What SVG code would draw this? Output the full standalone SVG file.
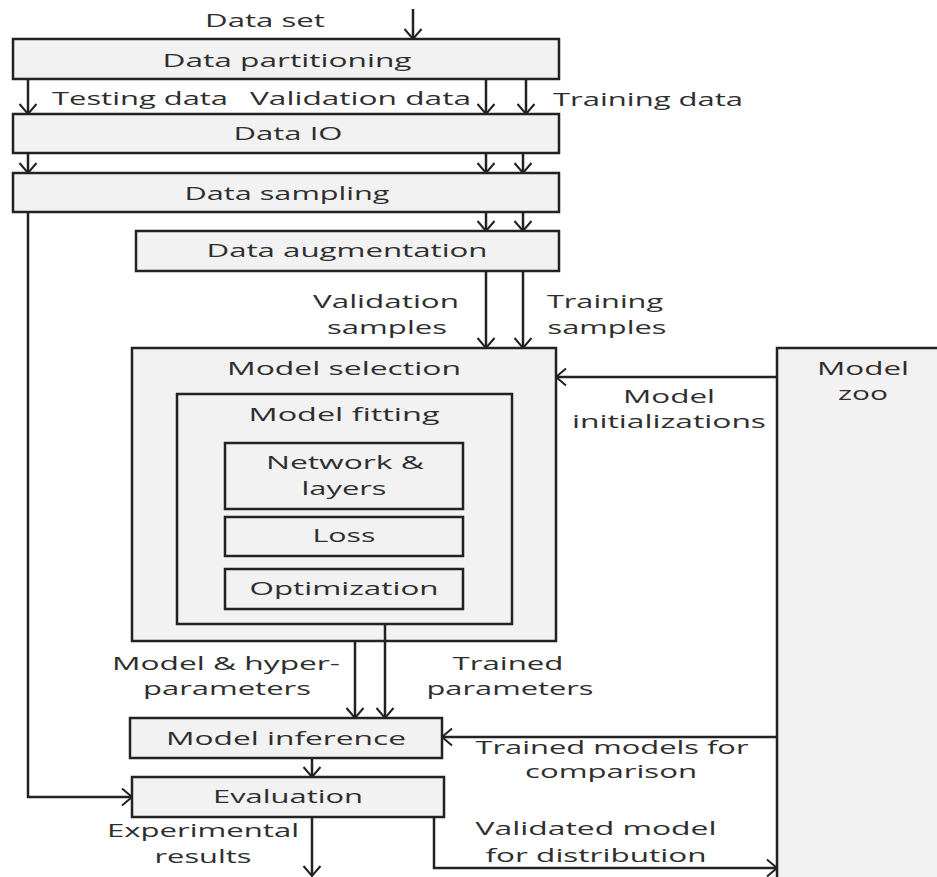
<svg xmlns="http://www.w3.org/2000/svg" width="937" height="877" viewBox="0 0 937 877">
  <style>
    .box { fill: #f2f2f2; stroke: #222; stroke-width: 2.5; }
    .lbl { font-family: "Open Sans", "Liberation Sans", sans-serif; font-size: 18.5px; fill: #2e2e2e; }
    .c { text-anchor: middle; }
    .wire { fill: none; stroke: #222; stroke-width: 2.5; }
    .arr { marker-end: url(#chev); }
  </style>
  <defs>
    <marker id="chev" markerUnits="userSpaceOnUse" viewBox="0 0 12 20" refX="11" refY="10" markerWidth="12" markerHeight="20" orient="auto">
      <path d="M1,1.5 L11,10 L1,18.5" fill="none" stroke="#222" stroke-width="2"/>
    </marker>
  </defs>

  <rect width="937" height="877" fill="#fff"/>

  <!-- pipeline stages -->
  <g id="data-partitioning">
    <rect class="box" x="13" y="39" width="546" height="40"/>
    <text class="lbl c" x="287" y="67" textLength="249" lengthAdjust="spacingAndGlyphs">Data partitioning</text>
  </g>
  <g id="data-io">
    <rect class="box" x="13" y="114" width="546" height="39"/>
    <text class="lbl c" x="288" y="140" textLength="109" lengthAdjust="spacingAndGlyphs">Data IO</text>
  </g>
  <g id="data-sampling">
    <rect class="box" x="13" y="173" width="546" height="39"/>
    <text class="lbl c" x="287" y="200" textLength="205" lengthAdjust="spacingAndGlyphs">Data sampling</text>
  </g>
  <g id="data-augmentation">
    <rect class="box" x="136" y="231" width="423" height="40"/>
    <text class="lbl c" x="347" y="257" textLength="281" lengthAdjust="spacingAndGlyphs">Data augmentation</text>
  </g>
  <g id="model-selection">
    <rect class="box" x="132" y="348" width="424" height="293"/>
    <text class="lbl c" x="344" y="375" textLength="234" lengthAdjust="spacingAndGlyphs">Model selection</text>
  </g>
  <g id="model-fitting">
    <rect class="box" x="177" y="394" width="335" height="230"/>
    <text class="lbl c" x="344" y="421" textLength="191" lengthAdjust="spacingAndGlyphs">Model fitting</text>
  </g>
  <g id="network-layers">
    <rect class="box" x="225" y="443" width="238" height="66"/>
    <text class="lbl c" x="345" y="469" textLength="158" lengthAdjust="spacingAndGlyphs">Network &amp;</text>
    <text class="lbl c" x="344" y="495" textLength="85" lengthAdjust="spacingAndGlyphs">layers</text>
  </g>
  <g id="loss">
    <rect class="box" x="225" y="517" width="238" height="39"/>
    <text class="lbl c" x="344" y="542" textLength="63" lengthAdjust="spacingAndGlyphs">Loss</text>
  </g>
  <g id="optimization">
    <rect class="box" x="225" y="569" width="238" height="40"/>
    <text class="lbl c" x="344" y="595" textLength="189" lengthAdjust="spacingAndGlyphs">Optimization</text>
  </g>
  <g id="model-inference">
    <rect class="box" x="130" y="718" width="312" height="40"/>
    <text class="lbl c" x="286" y="745" textLength="240" lengthAdjust="spacingAndGlyphs">Model inference</text>
  </g>
  <g id="evaluation">
    <rect class="box" x="132" y="777" width="312" height="40"/>
    <text class="lbl c" x="288" y="803" textLength="150" lengthAdjust="spacingAndGlyphs">Evaluation</text>
  </g>
  <g id="model-zoo">
    <rect class="box" x="777" y="348" width="180" height="545"/>
    <text class="lbl c" x="863" y="375" textLength="92" lengthAdjust="spacingAndGlyphs">Model</text>
    <text class="lbl c" x="863" y="400" textLength="50" lengthAdjust="spacingAndGlyphs">zoo</text>
  </g>

  <!-- connectors -->
  <g id="connectors">
    <path class="wire arr" d="M413,9 V39"/>
    <path class="wire arr" d="M28,79 V114"/>
    <path class="wire arr" d="M486,79 V114"/>
    <path class="wire arr" d="M526,79 V114"/>
    <path class="wire arr" d="M28,153 V173"/>
    <path class="wire arr" d="M486,153 V173"/>
    <path class="wire arr" d="M523,153 V173"/>
    <path class="wire arr" d="M486,212 V231"/>
    <path class="wire arr" d="M523,212 V231"/>
    <path class="wire arr" d="M486,271 V348"/>
    <path class="wire arr" d="M523,271 V348"/>
    <path class="wire arr" d="M28,212 V797 H132"/>
    <path class="wire arr" d="M777,377 H556"/>
    <path class="wire arr" d="M355,641 V718"/>
    <path class="wire arr" d="M385,624 V718"/>
    <path class="wire arr" d="M777,737 H442"/>
    <path class="wire arr" d="M312,758 V777"/>
    <path class="wire arr" d="M312,817 V876"/>
    <path class="wire arr" d="M434,817 V868 H777"/>
  </g>

  <!-- connector labels -->
  <g id="labels">
    <text class="lbl c" x="265" y="27" textLength="120" lengthAdjust="spacingAndGlyphs">Data set</text>
    <text class="lbl" x="52" y="105" textLength="176" lengthAdjust="spacingAndGlyphs">Testing data</text>
    <text class="lbl" x="250" y="105" textLength="221" lengthAdjust="spacingAndGlyphs">Validation data</text>
    <text class="lbl" x="553" y="106" textLength="190" lengthAdjust="spacingAndGlyphs">Training data</text>
    <text class="lbl c" x="386" y="308" textLength="146" lengthAdjust="spacingAndGlyphs">Validation</text>
    <text class="lbl c" x="387" y="334" textLength="120" lengthAdjust="spacingAndGlyphs">samples</text>
    <text class="lbl c" x="605" y="308" textLength="116" lengthAdjust="spacingAndGlyphs">Training</text>
    <text class="lbl c" x="607" y="334" textLength="119" lengthAdjust="spacingAndGlyphs">samples</text>
    <text class="lbl c" x="669" y="403" textLength="92" lengthAdjust="spacingAndGlyphs">Model</text>
    <text class="lbl c" x="669" y="428" textLength="194" lengthAdjust="spacingAndGlyphs">initializations</text>
    <text class="lbl c" x="226" y="670" textLength="228" lengthAdjust="spacingAndGlyphs">Model &amp; hyper-</text>
    <text class="lbl c" x="227" y="695" textLength="168" lengthAdjust="spacingAndGlyphs">parameters</text>
    <text class="lbl c" x="508" y="670" textLength="111" lengthAdjust="spacingAndGlyphs">Trained</text>
    <text class="lbl c" x="510" y="695" textLength="167" lengthAdjust="spacingAndGlyphs">parameters</text>
    <text class="lbl c" x="612" y="754" textLength="273" lengthAdjust="spacingAndGlyphs">Trained models for</text>
    <text class="lbl c" x="611" y="778" textLength="172" lengthAdjust="spacingAndGlyphs">comparison</text>
    <text class="lbl c" x="203" y="837" textLength="192" lengthAdjust="spacingAndGlyphs">Experimental</text>
    <text class="lbl c" x="203" y="863" textLength="97" lengthAdjust="spacingAndGlyphs">results</text>
    <text class="lbl c" x="596" y="835" textLength="241" lengthAdjust="spacingAndGlyphs">Validated model</text>
    <text class="lbl c" x="596" y="862" textLength="221" lengthAdjust="spacingAndGlyphs">for distribution</text>
  </g>
</svg>
